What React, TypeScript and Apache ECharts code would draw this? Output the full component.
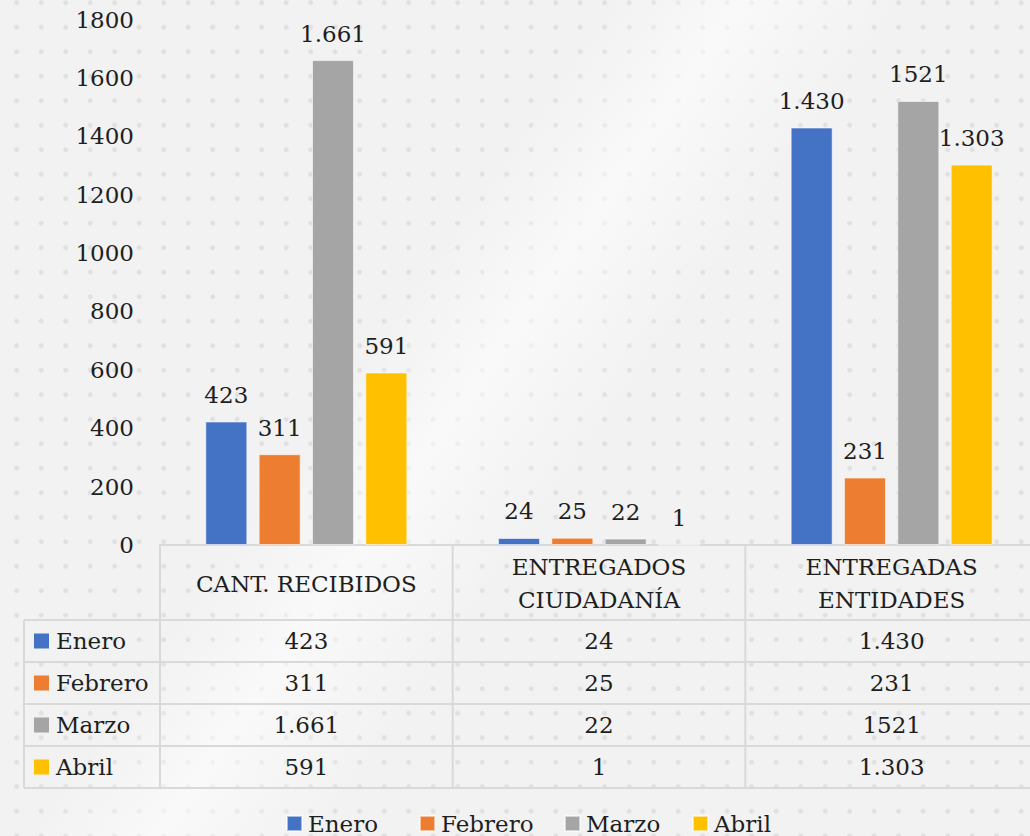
import React, { useEffect, useRef } from "react";
import * as echarts from "echarts";

const categories = ["CANT. RECIBIDOS", "ENTREGADOS\nCIUDADANÍA", "ENTREGADAS\nENTIDADES"];
const seriesNames = ["Enero", "Febrero", "Marzo", "Abril"];
const enero = [423, 24, 1430];
const febrero = [311, 25, 231];
const marzo = [1661, 22, 1521];
const abril = [591, 1, 1303];
const eneroLabels = ["423", "24", "1.430"];
const febreroLabels = ["311", "25", "231"];
const marzoLabels = ["1.661", "22", "1521"];
const abrilLabels = ["591", "1", "1.303"];
const colors = ["#4472C4", "#ED7D31", "#A5A5A5", "#FFC000"];
const yMin = 0;
const yMax = 1800;
const yInterval = 200;

const FONT = "DejaVu Serif";
const FS = 23;
const TEXT = "#1e1e1e";
const LINE = "#d9d9d9";

export default function App() {
  const ref = useRef<HTMLDivElement>(null);
  useEffect(() => {
    if (!ref.current) return;
    const chart = echarts.init(ref.current, undefined, { renderer: "svg" });
    const values = [enero, febrero, marzo, abril];
    const labels = [eneroLabels, febreroLabels, marzoLabels, abrilLabels];
    const legendLefts = [286, 419, 564, 692];
    chart.setOption({
      animation: false,
      backgroundColor: "transparent",
      textStyle: { fontFamily: FONT },
      grid: { left: 160, right: 0, top: 19.5, bottom: 291, containLabel: false },
      xAxis: {
        type: "category",
        data: categories,
        axisLine: { show: true, lineStyle: { color: LINE, width: 2 } },
        axisTick: { show: false },
        axisLabel: { show: false },
        splitLine: { show: false },
      },
      yAxis: {
        type: "value",
        min: yMin,
        max: yMax,
        interval: yInterval,
        axisLine: { show: false },
        axisTick: { show: false },
        splitLine: { show: false },
        axisLabel: {
          fontSize: FS,
          fontFamily: FONT,
          color: TEXT,
          margin: 26,
          formatter: (v: number) => String(v),
        },
      },
      legend: seriesNames.map((n, i) => ({
        data: [n],
        left: legendLefts[i],
        top: 812,
        itemWidth: 15,
        itemHeight: 15,
        icon: "rect",
        itemGap: 0,
        padding: 0,
        textStyle: { fontSize: FS, fontFamily: FONT, color: TEXT, padding: [0, 0, 0, 1] },
      })),
      series: seriesNames.map((n, i) => ({
        name: n,
        type: "bar",
        data: values[i],
        barWidth: 42,
        barGap: "27%",
        itemStyle: { color: colors[i], borderColor: "rgba(255,255,255,0.55)", borderWidth: 1 },
        label: {
          show: true,
          position: "top",
          distance: 15,
          fontSize: FS,
          fontFamily: FONT,
          color: TEXT,
          formatter: (p: any) => labels[i][p.dataIndex],
        },
      })),
    });

    const centers = categories.map((_, i) => chart.convertToPixel({ xAxisIndex: 0 }, i) as number);
    const band = centers[1] - centers[0];
    const axisY = chart.convertToPixel({ yAxisIndex: 0 }, 0) as number;
    const headerBottom = axisY + 75;
    const rowH = 42;
    const tableBottom = headerBottom + rowH * 4;
    const leftEdge = 24;
    const rightEdge = centers[2] + band / 2;
    const gridLeft = centers[0] - band / 2;
    const g: any[] = [];
    const line = (x1: number, y1: number, x2: number, y2: number) =>
      g.push({ type: "line", silent: true, shape: { x1, y1, x2, y2 }, style: { stroke: LINE, lineWidth: 2 } });
    for (let r = 0; r <= 4; r++) line(leftEdge, headerBottom + r * rowH, rightEdge, headerBottom + r * rowH);
    line(leftEdge, headerBottom, leftEdge, tableBottom);
    for (let c = 0; c <= 3; c++) {
      const x = gridLeft + c * band;
      line(x, axisY, x, tableBottom);
    }
    const txt = (text: string, x: number, y: number, align: string, lineHeight?: number) => ({
      type: "text",
      silent: true,
      x,
      y,
      style: {
        text,
        fill: TEXT,
        fontSize: FS,
        fontFamily: FONT,
        lineHeight: lineHeight || FS + 4,
        align,
        verticalAlign: "middle",
      },
    });
    categories.forEach((cat, c) => {
      g.push(txt(cat, centers[c], (axisY + headerBottom) / 2 + 1, "center", 32.5));
    });
    seriesNames.forEach((n, r) => {
      const cy = headerBottom + r * rowH + rowH / 2;
      g.push({
        type: "rect",
        silent: true,
        shape: { x: 34, y: cy - 7.5, width: 15, height: 15 },
        style: { fill: colors[r] },
      });
      g.push(txt(n, 56, cy, "left"));
      labels[r].forEach((lab, c) => {
        g.push(txt(lab, centers[c], cy, "center"));
      });
    });
    chart.setOption({ graphic: g });
    return () => chart.dispose();
  }, []);

  return (
    <div
      style={{
        position: "fixed",
        left: 0,
        top: 0,
        width: 1030,
        height: 836,
        overflow: "hidden",
        backgroundColor: "#f2f2f2",
        backgroundImage:
          "linear-gradient(125deg, rgba(255,255,255,0) 38%, rgba(255,255,255,0.55) 46%, rgba(255,255,255,0) 56%), radial-gradient(circle, #e0e0e0 2px, rgba(224,224,224,0) 2.8px)",
        backgroundSize: "100% 100%, 24.5px 24.5px",
        backgroundPosition: "0 0, 4.45px -9.55px",
      }}
    >
      <div ref={ref} style={{ width: 1038, height: 836 }} />
    </div>
  );
}
